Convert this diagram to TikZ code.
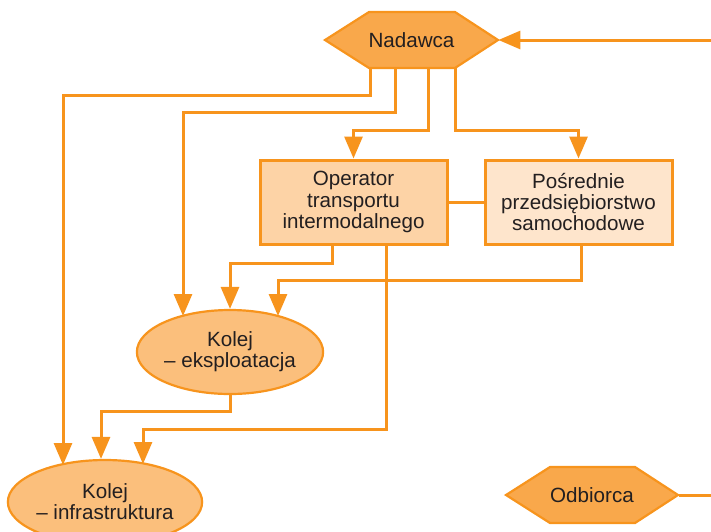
\documentclass[tikz,border=0pt]{standalone}
\usepackage{fontspec}
\setmainfont{Liberation Sans}
\usetikzlibrary{arrows.meta,calc,shapes.geometric}
\definecolor{tangerine}{RGB}{247, 148, 29}
\definecolor{apricot}{RGB}{249, 168, 75}
\definecolor{melon}{RGB}{251, 191, 124}
\definecolor{peach}{RGB}{253, 211, 166}
\definecolor{cream}{RGB}{254, 229, 204}
\definecolor{ink}{RGB}{35, 31, 32}

\begin{document}
\begin{tikzpicture}[x=0.5pt, y=-0.5pt,
        font=\fontsize{10.3}{10.6}\selectfont, text=ink,
        party/.style={minimum width=86.5pt, minimum height=28pt, inner sep=0pt},
        hexline/.style={draw=tangerine, fill=apricot, line width=1.1pt},
        firm/.style={draw=tangerine, line width=1.5pt, minimum width=93.5pt,
                     minimum height=42pt, inner sep=2pt, align=center},
        rail/.style={ellipse, draw=tangerine, fill=melon, line width=1.1pt,
                     minimum width=93pt, minimum height=42pt, inner sep=0pt, align=center},
        link/.style={draw=tangerine, line width=1.5pt, -{Triangle[length=11pt, width=9pt]}},
        plain/.style={draw=tangerine, line width=1.5pt}]
            \useasboundingbox (0, 0) rectangle (711, 531);
            % Sender & receiver
            \filldraw[hexline] (325, 40) -- (369, 12) -- (455, 12) -- (498, 40) -- (455, 68) -- (369, 68) -- cycle;
            \node[party] (nad) at (411.5, 40) {Nadawca};
            \filldraw[hexline] (506,495) -- (550,467) -- (635,467) -- (678,495) -- (635,523) -- (550,523) -- cycle;
            \node[party] (odb) at (592, 495) {Odbiorca};
            % Operators
            \node[firm, fill=peach] (op)  at (353.5, 202) {Operator\\transportu\\intermodalnego};
            \node[firm, fill=cream] (pos) at (578.5, 202) {Pośrednie\\przedsiębiorstwo\\samochodowe};
            % Railway
            \node[rail] (eks) at (230, 352) {Kolej\\– eksploatacja};
            \node[rail] (inf) at (105, 502) {Kolej\\– infrastruktura};
            % Outer ends
            \coordinate (nadin)  at (712, 40);
            \coordinate (odbout) at (712, 495);
            \draw[link]  (nadin) -- (nad.east);
            \draw[plain] (odb.east) -- (odbout);
            % From the sender
            \draw[link] ($(nad.south)+(-41, 0)$)   |- (63, 95)  -- ($(inf.center)+(-42, -37)$);
            \draw[link] ($(nad.south)+(-16.5, 0)$) |- (183, 112) -- ($(eks.center)+(-47, -36)$);
            \draw[link] ($(nad.south)+(16.5, 0)$)  -- ++(0, 62) -| (op.north);
            \draw[link] ($(nad.south)+(43.5, 0)$)  -- ++(0, 62) -| (pos.north);
            % Between operators
            \draw[plain] (op.east) -- (pos.west);
            % Down to the railway
            \draw[link] ($(op.south)+(-21.5, 0)$) -- ++(0, 18)  -| (eks.north);
            \draw[link] ($(op.south)+(32.5, 0)$)  -- ++(0, 184) -| ($(inf.center)+(38, -38)$);
            \draw[link] ($(pos.south)+(2.5, 0)$)  -- ++(0, 35)  -| ($(eks.center)+(48, -36)$);
            \draw[link] (eks.south)               -- ++(0, 16)  -| ($(inf.north)+(-4, 0)$);
        \end{tikzpicture}
\end{document}
